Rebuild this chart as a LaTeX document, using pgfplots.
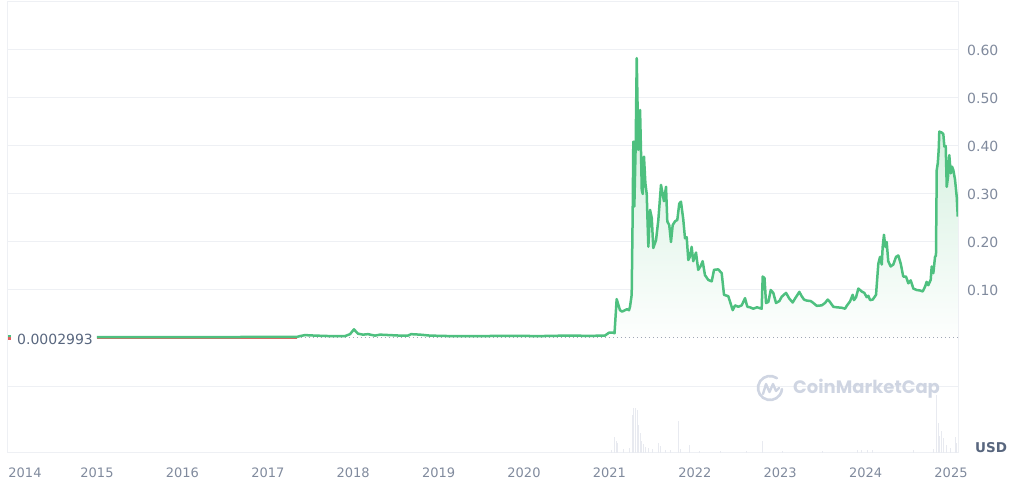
\documentclass[border=0pt]{standalone}
\usepackage{pgfplots}
\pgfplotsset{compat=1.18}
\usepackage{pgfplotstable}
\usepackage{fontspec}
\setmainfont{DejaVu Sans}
\newfontfamily\wmfont{Poppins}

\definecolor{cmcgreen}{RGB}{78,192,127}
\definecolor{cmcred}{RGB}{226,96,96}
\definecolor{gfill}{RGB}{200,236,214}
\definecolor{gridc}{RGB}{238,240,244}
\definecolor{tickc}{RGB}{128,138,157}
\definecolor{darkc}{RGB}{88,102,126}
\definecolor{dotc}{RGB}{160,167,181}
\definecolor{volc}{RGB}{232,234,240}
\definecolor{wmc}{RGB}{207,213,226}

% price, USD (year as decimal)
\pgfplotstableread{
x y
2015.000 0.0020
2016.206 0.0020
2017.342 0.0022
2017.377 0.0040
2017.436 0.0060
2017.553 0.0050
2017.728 0.0040
2017.904 0.0040
2017.963 0.0080
2018.009 0.0180
2018.056 0.0090
2018.115 0.0070
2018.173 0.0080
2018.255 0.0050
2018.314 0.0070
2018.431 0.0060
2018.548 0.0050
2018.642 0.0050
2018.677 0.0080
2018.782 0.0070
2018.899 0.0050
2019.133 0.0040
2019.485 0.0040
2019.836 0.0045
2020.187 0.0040
2020.492 0.0050
2020.773 0.0045
2020.948 0.0050
2020.995 0.0110
2021.042 0.0110
2021.060 0.0100
2021.085 0.0810
2021.124 0.0580
2021.148 0.0550
2021.183 0.0580
2021.206 0.0600
2021.230 0.0580
2021.241 0.0650
2021.261 0.0900
2021.273 0.2670
2021.280 0.4090
2021.292 0.2740
2021.308 0.4050
2021.320 0.5830
2021.339 0.3920
2021.359 0.4750
2021.371 0.3800
2021.379 0.3080
2021.391 0.3000
2021.405 0.3780
2021.421 0.3230
2021.437 0.3000
2021.456 0.1900
2021.476 0.2670
2021.496 0.2500
2021.514 0.1875
2021.546 0.2040
2021.573 0.2460
2021.604 0.3190
2021.624 0.3000
2021.639 0.2850
2021.663 0.3150
2021.678 0.2430
2021.701 0.2350
2021.721 0.2000
2021.741 0.2350
2021.768 0.2430
2021.795 0.2460
2021.818 0.2800
2021.838 0.2840
2021.865 0.2470
2021.885 0.2080
2021.905 0.2100
2021.924 0.1625
2021.944 0.1700
2021.963 0.1900
2021.982 0.1600
2022.014 0.1780
2022.040 0.1420
2022.069 0.1500
2022.092 0.1600
2022.119 0.1310
2022.158 0.1210
2022.198 0.1180
2022.225 0.1420
2022.275 0.1430
2022.315 0.1350
2022.342 0.0900
2022.392 0.0870
2022.412 0.0760
2022.444 0.0580
2022.471 0.0680
2022.509 0.0650
2022.549 0.0680
2022.588 0.0830
2022.615 0.0650
2022.646 0.0640
2022.685 0.0610
2022.728 0.0640
2022.783 0.0610
2022.795 0.1280
2022.816 0.1250
2022.834 0.0730
2022.861 0.0750
2022.889 0.1000
2022.919 0.0940
2022.951 0.0730
2022.990 0.0770
2023.018 0.0860
2023.068 0.0940
2023.107 0.0820
2023.146 0.0740
2023.173 0.0820
2023.224 0.0960
2023.252 0.0870
2023.279 0.0800
2023.310 0.0780
2023.357 0.0770
2023.388 0.0730
2023.428 0.0670
2023.486 0.0680
2023.525 0.0730
2023.556 0.0800
2023.583 0.0750
2023.622 0.0650
2023.662 0.0640
2023.721 0.0630
2023.759 0.0610
2023.779 0.0670
2023.817 0.0760
2023.849 0.0900
2023.864 0.0790
2023.888 0.0850
2023.915 0.1030
2023.954 0.0970
2023.985 0.0940
2024.013 0.0850
2024.032 0.0880
2024.052 0.0790
2024.083 0.0800
2024.122 0.0900
2024.149 0.1550
2024.169 0.1690
2024.189 0.1530
2024.200 0.1900
2024.215 0.2150
2024.231 0.1900
2024.247 0.2000
2024.265 0.1600
2024.293 0.1490
2024.324 0.1530
2024.356 0.1690
2024.383 0.1720
2024.411 0.1550
2024.441 0.1280
2024.473 0.1280
2024.500 0.1140
2024.528 0.1200
2024.559 0.1030
2024.598 0.1000
2024.637 0.0990
2024.669 0.0970
2024.696 0.1070
2024.715 0.1170
2024.734 0.1100
2024.762 0.1210
2024.774 0.1490
2024.793 0.1350
2024.813 0.1690
2024.824 0.1720
2024.833 0.3500
2024.845 0.3640
2024.856 0.3920
2024.863 0.4300
2024.891 0.4280
2024.910 0.4250
2024.922 0.3990
2024.938 0.4000
2024.950 0.3150
2024.965 0.3360
2024.980 0.3810
2024.997 0.3430
2025.012 0.3570
2025.027 0.3500
2025.047 0.3300
2025.067 0.2940
2025.079 0.2530
}\price

% volume, bar heights in the volume strip (arbitrary units)
\pgfplotstableread{
x v
2021.030 3
2021.054 16
2021.085 12
2021.100 10
2021.160 4
2021.241 5
2021.265 38
2021.280 45
2021.300 35
2021.311 45
2021.331 43
2021.346 28
2021.364 20
2021.381 12
2021.405 9
2021.428 6
2021.452 5
2021.499 4
2021.569 10
2021.593 7
2021.652 3
2021.710 3
2021.807 32
2021.827 4
2021.932 8
2022.060 2
2022.300 2
2022.600 2
2022.795 12
2023.030 1.5
2023.500 1.5
2023.900 2.5
2023.950 3
2024.020 2.5
2024.080 3
2024.560 3
2024.790 4
2024.833 58
2024.848 30
2024.866 17
2024.884 22
2024.907 15
2024.942 8
2024.989 5
2025.047 16
2025.070 10
}\volume

\begin{document}
\begin{tikzpicture}
\begin{axis}[
  at={(8pt,39pt)}, anchor=south west,
  scale only axis, width=950pt, height=451pt,
  xmin=2013.958, xmax=2025.082,
  ymin=-0.23958, ymax=0.7,
  clip mode=individual,
  axis line style={draw=gridc, line width=1pt},
  major tick length=0pt,
  xtick={2014.157,2015,2016,2017,2018,2019,2020,2021,2022,2023,2024,2025},
  xticklabels={2014,2015,2016,2017,2018,2019,2020,2021,2022,2023,2024,2025},
  x tick label style={anchor=center, yshift=-20pt, text=tickc,
    font=\fontsize{13pt}{15pt}\selectfont},
  ytick={0.1,0.2,0.3,0.4,0.5,0.6},
  extra y ticks={-0.1,0.7},
  extra y tick labels={},
  extra y tick style={grid=major},
  ymajorgrids,
  grid style={draw=gridc, line width=1pt},
  yticklabel pos=right,
  y tick label style={anchor=west, inner sep=0pt, xshift=9pt, text=tickc,
    font=\fontsize{14pt}{16pt}\selectfont},
  yticklabel style={/pgf/number format/.cd, fixed, fixed zerofill, precision=2,
    assume math mode=true},
]
% gradient area under the price
\addplot[draw=none, top color=gfill, bottom color=white!97!gfill]
  table[x=x, y=y] {\price} \closedcycle;
% reference price line
\addplot[dotc, line width=1pt, dash pattern=on 1pt off 3pt]
  coordinates {(2015,0) (2025.082,0)};
\addplot[cmcred, line width=1.3pt] coordinates {(2015,-0.0012) (2017.342,-0.0012)};
\addplot[cmcgreen, line width=2.5pt, line join=round] table[x=x, y=y] {\price};
\addplot[only marks, mark=square*, mark size=1.1pt, cmcgreen] coordinates {(2013.975,0.0025)};
\addplot[only marks, mark=square*, mark size=0.8pt, cmcred] coordinates {(2013.975,-0.001)};
\end{axis}

\begin{axis}[
  at={(8pt,39pt)}, anchor=south west,
  scale only axis, width=950pt, height=451pt,
  xmin=2013.958, xmax=2025.082,
  ymin=0, ymax=451,
  hide axis,
]
\addplot[ycomb, volc, line width=1pt] table[x=x, y=v] {\volume};
\end{axis}

% baseline price label
\node[anchor=west, inner sep=0pt, text=darkc, font=\fontsize{14pt}{16pt}\selectfont]
  at (17pt,153pt) {0.0002993};
% currency
\node[anchor=center, inner sep=0pt, text=darkc, font=\fontsize{13.5pt}{16pt}\selectfont\bfseries]
  at (991pt,44pt) {USD};
% watermark
\draw[wmc, line width=2.6pt, line cap=round] (770pt,104pt) ++(55:12pt) arc (55:355:12pt);
\draw[wmc, line width=2.4pt, line cap=round, line join=round]
  (763pt,98pt) -- (766pt,108pt) -- (769.5pt,100pt) -- (773pt,108pt) -- (776pt,101pt) -- (779pt,104pt);
\node[anchor=west, inner sep=0pt, text=wmc, font=\wmfont\fontsize{18pt}{21pt}\selectfont\bfseries]
  at (793pt,103pt) {CoinMarketCap};

\pgfresetboundingbox
\path[use as bounding box] (0,0) rectangle (1024pt,492pt);
\end{tikzpicture}
\end{document}
